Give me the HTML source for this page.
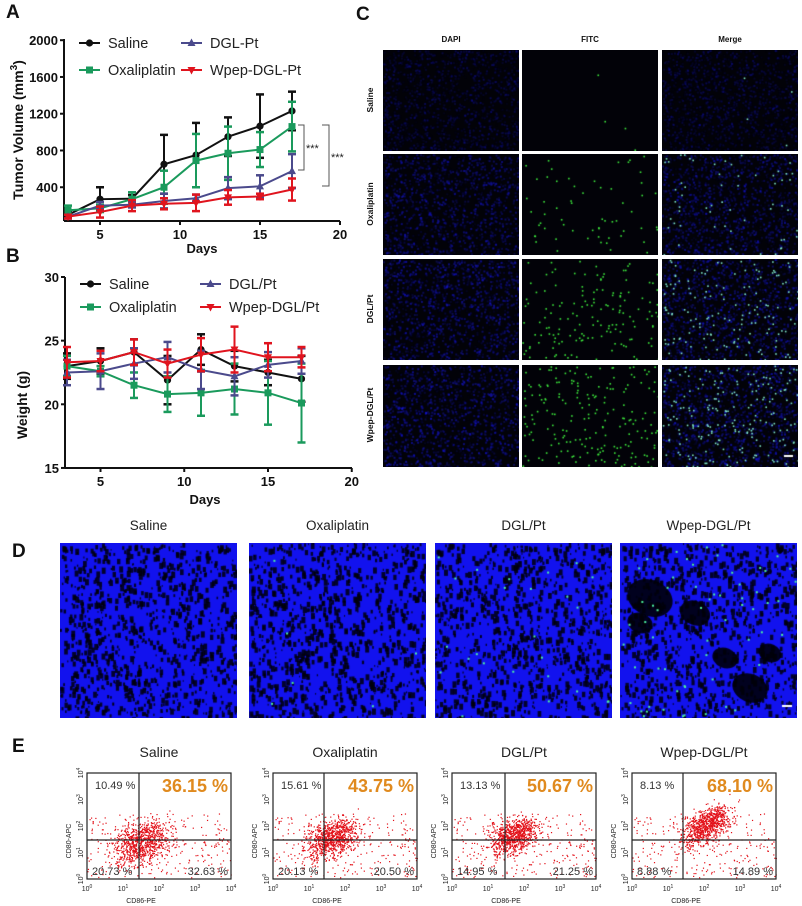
<!DOCTYPE html>
<html><head><meta charset="utf-8">
<style>
body{margin:0;background:#fff;}
#root{position:relative;width:802px;height:906px;overflow:hidden;background:#fff;font-family:"Liberation Sans",Arial,sans-serif;}
.abs{position:absolute;}
.plab{position:absolute;font-weight:bold;font-size:19px;color:#111;}
canvas{position:absolute;}
</style></head>
<body>
<div id="root">
<div class="plab" style="left:6px;top:2px">A</div>
<div class="plab" style="left:6px;top:246px">B</div>
<div class="plab" style="left:356px;top:4px">C</div>
<div class="plab" style="left:12px;top:541px">D</div>
<div class="plab" style="left:12px;top:736px">E</div>

<svg id="chartA" class="abs" style="left:0;top:0" width="360" height="260"></svg>
<svg id="chartB" class="abs" style="left:0;top:250" width="360" height="260"></svg>

<div id="panelC"></div>
<div id="panelD"></div>
<div id="panelE"></div>
</div>
<script>
// ---------- Panel A data ----------
const daysA = [3,5,7,9,11,13,15,17];
const salineA = [100,270,275,650,750,950,1065,1230];
const salineAErr = [30,130,40,320,350,210,345,210];
const oxaliA = [150,170,270,400,690,770,810,1060];
const oxaliAErr = [50,40,75,180,290,290,190,270];
const dglA = [80,200,210,250,280,390,410,575];
const dglAErr = [20,40,30,80,40,120,120,185];
const wpepA = [80,130,200,220,230,290,300,375];
const wpepAErr = [20,60,60,60,90,80,30,120];
const ticksAy = [400,800,1200,1600,2000];
const ticksAx = [5,10,15,20];
// ---------- Panel B data ----------
const daysB = [3,5,7,9,11,13,15,17];
const salineB = [23.0,23.4,24.1,21.9,24.3,23.0,22.5,22.0];
const salineBErr = [1,1,1,1.9,1.2,1.2,1,1.8];
const oxaliB = [23.0,22.6,21.5,20.8,20.9,21.2,20.9,20.1];
const oxaliBErr = [0.8,0.4,1,1.4,1.8,2,2.5,3.1];
const dglB = [22.5,22.6,23.2,23.7,22.7,22.2,23.1,23.4];
const dglBErr = [1,1.4,1.2,1.2,1.5,1.5,1,1];
const wpepB = [23.3,23.4,24.1,23.2,23.9,24.3,23.7,23.7];
const wpepBErr = [1.2,0.8,1,1.1,1.3,1.8,1.1,0.8];
const ticksBy = [15,20,25,30];
const ticksBx = [5,10,15,20];
// ---------- Panel E data ----------
const flowGroups = ['Saline','Oxaliplatin','DGL/Pt','Wpep-DGL/Pt'];
const flowUR = ['36.15 %','43.75 %','50.67 %','68.10 %'];
const flowUL = ['10.49 %','15.61 %','13.13 %','8.13 %'];
const flowLL = ['20.73 %','20.13 %','14.95 %','8.88 %'];
const flowLR = ['32.63 %','20.50 %','21.25 %','14.89 %'];

const NS='http://www.w3.org/2000/svg';
function el(parent,tag,attrs,text){const e=document.createElementNS(NS,tag);for(const k in attrs)e.setAttribute(k,attrs[k]);if(text!==undefined)e.textContent=text;parent.appendChild(e);return e;}
const COLORS={saline:'#111111',oxali:'#1a9a5c',dgl:'#4b4a8c',wpep:'#e0141e'};

function marker(g,type,x,y,c){
  if(type==='circle') el(g,'circle',{cx:x,cy:y,r:3.6,fill:c});
  else if(type==='square') el(g,'rect',{x:x-3.5,y:y-3.5,width:7,height:7,fill:c});
  else if(type==='up') el(g,'polygon',{points:`${x},${y-4.5} ${x-4},${y+3} ${x+4},${y+3}`,fill:c});
  else el(g,'polygon',{points:`${x},${y+4.5} ${x-4},${y-3} ${x+4},${y-3}`,fill:c});
}
function drawSeries(svg,name,days,vals,errs,xs,ys,c,type){
  const g=el(svg,'g',{});
  
  
  let d='';
  days.forEach((dd,i)=>{d+=(i?'L':'M')+xs(dd)+','+ys(vals[i]);});
  el(g,'path',{d:d,fill:'none',stroke:c,'stroke-width':2});
  days.forEach((dd,i)=>{
    const x=xs(dd),y1=ys(vals[i]+errs[i]),y2=ys(vals[i]-errs[i]);
    el(g,'line',{x1:x,x2:x,y1:y1,y2:y2,stroke:c,'stroke-width':2});
    el(g,'line',{x1:x-4,x2:x+4,y1:y1,y2:y1,stroke:c,'stroke-width':2.5});
    el(g,'line',{x1:x-4,x2:x+4,y1:y2,y2:y2,stroke:c,'stroke-width':2.5});
    marker(g,type,x,ys(vals[i]),c);
  });
}
function legendItem(svg,name,x,y,c,type,label){
  const g=el(svg,'g',{});
  
  
  el(g,'line',{x1:x,x2:x+21,y1:y,y2:y,stroke:c,'stroke-width':2});
  marker(g,type,x+10.5,y,c);
  el(g,'text',{x:x+29,y:y+5,'font-size':14.5,fill:'#222'},label);
}
function axes(svg,x0,x1,y0,y1,xs,ys,tx,ty){
  el(svg,'line',{x1:x0,x2:x0,y1:y0,y2:y1,stroke:'#111','stroke-width':2});
  el(svg,'line',{x1:x0,x2:x1,y1:y1,y2:y1,stroke:'#111','stroke-width':2});
  ty.forEach(v=>{const y=ys(v);el(svg,'line',{x1:x0-4,x2:x0,y1:y,y2:y,stroke:'#111','stroke-width':2});
    el(svg,'text',{x:x0-6,y:y+5,'text-anchor':'end','font-size':13,'font-weight':'bold',fill:'#111'},v);});
  tx.forEach(v=>{const x=xs(v);el(svg,'line',{x1:x,x2:x,y1:y1,y2:y1+4,stroke:'#111','stroke-width':2});
    el(svg,'text',{x:x,y:y1+18,'text-anchor':'middle','font-size':13,'font-weight':'bold',fill:'#111'},v);});
}
// Chart A
(function(){
  const svg=document.getElementById('chartA');
  const xs=d=>68+(d-3)*16, ys=v=>224-v*0.0919;
  axes(svg,64,340,39,221,xs,ys,ticksAx,ticksAy);
  const t=el(svg,'text',{x:0,y:0,transform:'translate(23,130) rotate(-90)','text-anchor':'middle','font-size':14,'font-weight':'bold',fill:'#111'});
  t.innerHTML='Tumor Volume (mm<tspan dy="-6" font-size="10">3</tspan><tspan dy="6">)</tspan>';
  
  const dt=el(svg,'text',{x:202,y:253,'text-anchor':'middle','font-size':13,'font-weight':'bold',fill:'#111'},'Days');
  
  drawSeries(svg,'series-saline',daysA,salineA,salineAErr,xs,ys,COLORS.saline,'circle');
  drawSeries(svg,'series-oxaliplatin',daysA,oxaliA,oxaliAErr,xs,ys,COLORS.oxali,'square');
  drawSeries(svg,'series-dgl-pt',daysA,dglA,dglAErr,xs,ys,COLORS.dgl,'up');
  drawSeries(svg,'series-wpep-dgl-pt',daysA,wpepA,wpepAErr,xs,ys,COLORS.wpep,'down');
  legendItem(svg,'legend-saline',79,43,COLORS.saline,'circle','Saline');
  legendItem(svg,'legend-dgl-pt',181,43,COLORS.dgl,'up','DGL-Pt');
  legendItem(svg,'legend-oxaliplatin',79,70,COLORS.oxali,'square','Oxaliplatin');
  legendItem(svg,'legend-wpep-dgl-pt',181,70,COLORS.wpep,'down','Wpep-DGL-Pt');
  const s=el(svg,'g',{});
  el(s,'path',{d:'M298,125 H304 V170 H298',fill:'none',stroke:'#555','stroke-width':1});
  el(s,'text',{x:306,y:152,'font-size':11,fill:'#222'},'***');
  el(s,'path',{d:'M322,125 H329 V186 H322',fill:'none',stroke:'#555','stroke-width':1});
  el(s,'text',{x:331,y:161,'font-size':11,fill:'#222'},'***');
})();
// Chart B
(function(){
  const svg=document.getElementById('chartB');
  const xs=d=>67+(d-3)*16.75, ys=v=>(277-250)+(30-v)*12.73;
  axes(svg,65,352,27,218,xs,ys,ticksBx,ticksBy);
  const t=el(svg,'text',{x:0,y:0,transform:'translate(27,155) rotate(-90)','text-anchor':'middle','font-size':14,'font-weight':'bold',fill:'#111'},'Weight (g)');
  
  const dt=el(svg,'text',{x:205,y:254,'text-anchor':'middle','font-size':13,'font-weight':'bold',fill:'#111'},'Days');
  
  drawSeries(svg,'series-saline',daysB,salineB,salineBErr,xs,ys,COLORS.saline,'circle');
  drawSeries(svg,'series-oxaliplatin',daysB,oxaliB,oxaliBErr,xs,ys,COLORS.oxali,'square');
  drawSeries(svg,'series-dgl-pt',daysB,dglB,dglBErr,xs,ys,COLORS.dgl,'up');
  drawSeries(svg,'series-wpep-dgl-pt',daysB,wpepB,wpepBErr,xs,ys,COLORS.wpep,'down');
  legendItem(svg,'legend-saline',80,34,COLORS.saline,'circle','Saline');
  legendItem(svg,'legend-dgl-pt',200,34,COLORS.dgl,'up','DGL/Pt');
  legendItem(svg,'legend-oxaliplatin',80,57,COLORS.oxali,'square','Oxaliplatin');
  legendItem(svg,'legend-wpep-dgl-pt',200,57,COLORS.wpep,'down','Wpep-DGL/Pt');
})();

// seeded PRNG for image texture
let seed=12345;function rnd(){seed=(seed*1103515245+12345)&0x7fffffff;return seed/0x7fffffff;}
function mkCanvas(x,y,w,h,name){
  const c=document.createElement('canvas');c.width=w;c.height=h;c.style.left=x+'px';c.style.top=y+'px';
  
  
  document.getElementById('root').appendChild(c);return c.getContext('2d');
}
function label(txt,x,y,style,name){
  const d=document.createElement('div');d.className='abs';d.textContent=txt;d.style.cssText+=`left:${x}px;top:${y}px;`+style;
  
  
  document.getElementById('root').appendChild(d);return d;
}
// Panel C
const cRows=['Saline','Oxaliplatin','DGL/Pt','Wpep-DGL/Pt'];
const cCols=['DAPI','FITC','Merge'];
const cGreen=[4,60,150,200];
const cBlue=[0.35,0.6,0.65,0.7];
const colX=[383,522,662], colW=136;
const rowY=[50,154,259,365], rowH=[101,101,101,102];
cCols.forEach((c,j)=>label(c,colX[j],35,'width:136px;text-align:center;font-size:8px;font-weight:bold;color:#111;','col-header-'+c.toLowerCase()));
cRows.forEach((r,i)=>{
  label(r,330,rowY[i]+rowH[i]/2-6,'width:80px;text-align:center;font-size:8.5px;font-weight:bold;color:#111;transform:rotate(-90deg);','row-label-'+i);
  cCols.forEach((c,j)=>{
    const w=colW,h=rowH[i];
    const ctx=mkCanvas(colX[j],rowY[i],w,h,'micrograph-'+i+'-'+c.toLowerCase());
    ctx.fillStyle='#020208';ctx.fillRect(0,0,w,h);
    if(j!==1){
      const b=cBlue[i];
      for(let k=0;k<1400;k++){ctx.fillStyle=`rgba(20,20,${Math.floor(120+120*rnd())},${b*rnd()})`;ctx.fillRect(rnd()*w,rnd()*h,2,2);}
    }
    if(j!==0){
      for(let k=0;k<cGreen[i];k++){ctx.fillStyle=j===1?'#3ce83c':'#7fe6c8';ctx.fillRect(rnd()*w,rnd()*h,1.6,1.6);}
    }
    if(i===3&&j===2){ctx.fillStyle='#fff';ctx.fillRect(w-14,h-12,9,2);}
  });
});
// Panel D
const dTitles=['Saline','Oxaliplatin','DGL/Pt','Wpep-DGL/Pt'];
const dX=[60,249,435,620], dW=177;
const dGreen=[0,6,25,60];
dTitles.forEach((t,i)=>{
  label(t,dX[i],518,'width:177px;text-align:center;font-size:13.5px;color:#222;','d-title-'+i);
  const w=dW,h=175;
  const ctx=mkCanvas(dX[i],543,w,h,'d-image-'+i);
  ctx.fillStyle='#1212ee';ctx.fillRect(0,0,w,h);
  for(let k=0;k<1000;k++){ctx.fillStyle='rgba(0,0,10,0.85)';const s=1+rnd()*3;ctx.fillRect(rnd()*w,rnd()*h,s,s*1.6);}
  if(i===3){
    ctx.fillStyle='rgba(0,0,8,0.9)';
    const blobs=[[30,55,18],[75,70,12],[130,145,14],[105,115,10],[150,110,9],[20,80,10]];
    blobs.forEach(b=>{ctx.beginPath();ctx.ellipse(b[0],b[1],b[2]*1.3,b[2],0.4,0,Math.PI*2);ctx.fill();});
  }
  for(let k=0;k<dGreen[i];k++){ctx.fillStyle='#4cf0a0';ctx.fillRect(rnd()*w,rnd()*h,2,2);}
  if(i===3){ctx.fillStyle='#fff';ctx.fillRect(w-15,h-13,10,2);}
});
// Panel E
const eX=[87,273,452,632], eW=144, eY=773, eH=106, gateX=[52,51,53,51], gateY=67;
flowGroups.forEach((g,i)=>{
  const x0=eX[i];
  label(g,x0-10,744,'width:164px;text-align:center;font-size:14px;color:#222;','e-title-'+i);
  const svg=el(document.getElementById('root'),'svg',{width:200,height:140,style:`position:absolute;left:${x0-40}px;top:${eY-10}px`});
  
  
  const ox=40,oy=10;
  const cx=[55,60,62,75][i], cy=[70,65,63,52][i], spread=[22,20,18,18][i];
  for(let k=0;k<1100;k++){
    let u=(rnd()+rnd()+rnd()-1.5)*spread*1.3, v=(rnd()+rnd()+rnd()-1.5)*spread*0.9;
    let px=cx+u, py=cy-(i===3?u*0.45:u*0.25)+v;
    if(rnd()<0.25){px=rnd()*eW;py=40+rnd()*65;}
    if(px<0||px>eW||py<2||py>eH)continue;
    el(svg,'rect',{x:ox+px,y:oy+py,width:1.2,height:1.2,fill:'#e3121a'});
  }
  el(svg,'rect',{x:ox,y:oy,width:eW,height:eH,fill:'none',stroke:'#222','stroke-width':1.2});
  el(svg,'line',{x1:ox+gateX[i],x2:ox+gateX[i],y1:oy,y2:oy+eH,stroke:'#222','stroke-width':1.2});
  el(svg,'line',{x1:ox,x2:ox+eW,y1:oy+gateY,y2:oy+gateY,stroke:'#222','stroke-width':1.2});
  el(svg,'text',{x:ox+eW-3,y:oy+19,'text-anchor':'end','font-size':18,'font-weight':'bold',fill:'#e08a1e'},flowUR[i]);
  el(svg,'text',{x:ox+8,y:oy+16,'font-size':11,fill:'#333'},flowUL[i]);
  el(svg,'text',{x:ox+5,y:oy+eH-4,'font-size':11,fill:'#333'},flowLL[i]);
  el(svg,'text',{x:ox+eW-3,y:oy+eH-4,'text-anchor':'end','font-size':11,fill:'#333'},flowLR[i]);
  ['0','1','2','3','4'].forEach((p,k)=>{
    const tx=ox+k*eW/4;
    const t=el(svg,'text',{x:tx,y:oy+eH+12,'text-anchor':'middle','font-size':7,fill:'#222'});t.innerHTML=`10<tspan dy="-3" font-size="5">${p}</tspan>`;
    const ty=oy+eH-k*eH/4;
    const t2=el(svg,'text',{x:0,y:0,transform:`translate(${ox-4},${ty}) rotate(-90)`,'text-anchor':'middle','font-size':7,fill:'#222'});t2.innerHTML=`10<tspan dy="-3" font-size="5">${p}</tspan>`;
  });
  el(svg,'text',{x:ox+eW/2-18,y:oy+eH+24,'text-anchor':'middle','font-size':7,fill:'#222'},'CD86-PE');
  el(svg,'text',{x:0,y:0,transform:`translate(${ox-16},${oy+eH/2+15}) rotate(-90)`,'text-anchor':'middle','font-size':7,fill:'#222'},'CD80-APC');
});
</script>
</body></html>
